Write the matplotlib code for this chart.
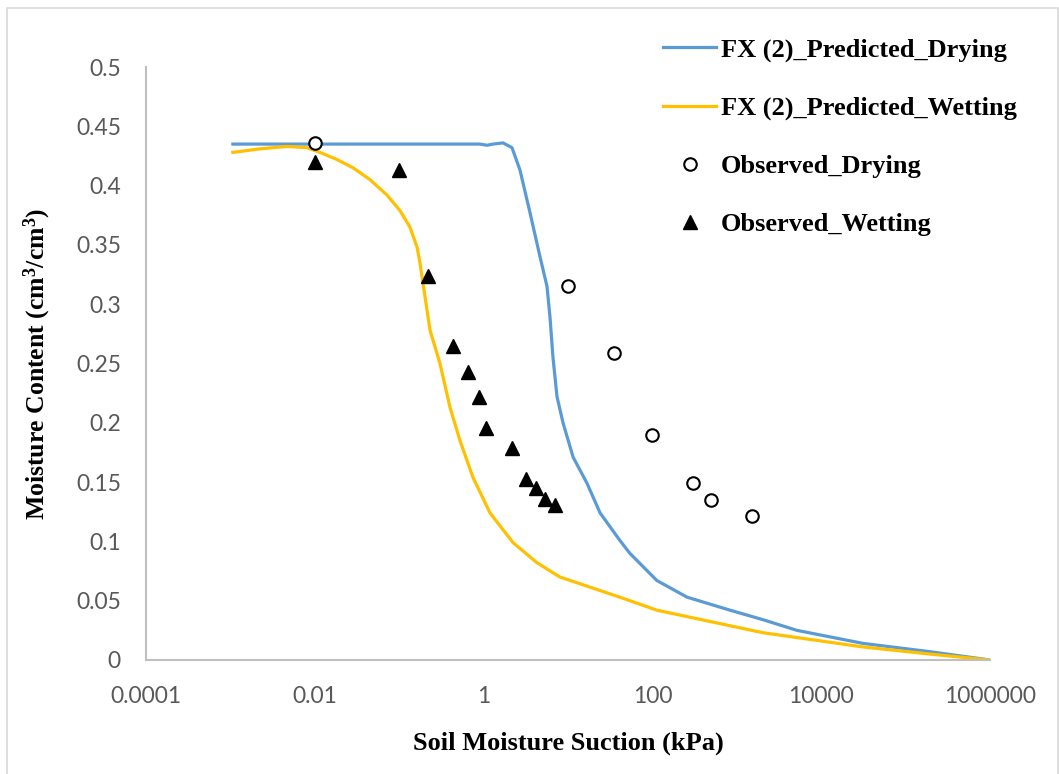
import matplotlib
matplotlib.use('Agg')
import matplotlib.pyplot as plt
from matplotlib.patches import Rectangle

####################
# Data

dry_x = [0.00107, 0.906, 1.1, 1.29, 1.70, 2.17, 2.70, 3.55, 4.66, 5.64, 6.12, 6.64, 7.41,
         8.73, 11.5, 16.8, 24, 41, 54, 113, 257, 832, 2040, 5150, 31300, 195000, 1000000]
dry_y = [0.435, 0.435, 0.434, 0.435, 0.436, 0.432, 0.413, 0.377, 0.340, 0.315, 0.289, 0.255,
         0.222, 0.200, 0.171, 0.149, 0.124, 0.101, 0.090, 0.067, 0.053, 0.042, 0.034, 0.025,
         0.014, 0.007, 0.0]

wet_x = [0.00107, 0.00224, 0.00469, 0.0081, 0.0115, 0.0183, 0.0284, 0.0451, 0.0717, 0.102,
         0.134, 0.163, 0.176, 0.191, 0.232, 0.304, 0.40, 0.525, 0.748, 1.19, 2.23, 4.29, 8.0,
         41, 113, 2040, 31300, 195000, 1000000]
wet_y = [0.428, 0.431, 0.433, 0.432, 0.428, 0.422, 0.415, 0.405, 0.392, 0.379, 0.365, 0.348,
         0.335, 0.318, 0.278, 0.250, 0.213, 0.185, 0.154, 0.124, 0.099, 0.082, 0.070, 0.053,
         0.042, 0.023, 0.011, 0.005, 0.0]

obs_dry_x = [0.01, 10, 35, 100, 300, 500, 1500]
obs_dry_y = [0.436, 0.315, 0.259, 0.190, 0.149, 0.135, 0.121]

obs_wet_x = [0.01, 0.1, 0.22, 0.435, 0.65, 0.88, 1.07, 2.17, 3.2, 4.2, 5.3, 7.0]
obs_wet_y = [0.420, 0.413, 0.324, 0.265, 0.243, 0.222, 0.196, 0.179, 0.153, 0.145, 0.136, 0.131]

x_ticks = [0.0001, 0.01, 1, 100, 10000, 1000000]
x_tick_labels = ['0.0001', '0.01', '1', '100', '10000', '1000000']
y_ticks = [0, 0.05, 0.1, 0.15, 0.2, 0.25, 0.3, 0.35, 0.4, 0.45, 0.5]
y_tick_labels = ['0', '0.05', '0.1', '0.15', '0.2', '0.25', '0.3', '0.35', '0.4', '0.45', '0.5']

####################
# Plot

plt.rcParams['mathtext.fontset'] = 'custom'
plt.rcParams['mathtext.rm'] = 'Liberation Serif:bold'
plt.rcParams['mathtext.it'] = 'Liberation Serif:bold'

fig = plt.figure(figsize=(10.59, 7.74), dpi=100)
ax = fig.add_axes([146/1059, 1-660/774, (990-146)/1059, (660-67)/774])

ax.plot(dry_x, dry_y, color='#5B9BD5', lw=2.3, label='FX (2)_Predicted_Drying')
ax.plot(wet_x, wet_y, color='#FFC000', lw=2.3, label='FX (2)_Predicted_Wetting')
ax.plot(obs_dry_x, obs_dry_y, 'o', ms=9, mfc='white', mec='black', mew=1.5,
        label='Observed_Drying')
ax.plot(obs_wet_x, obs_wet_y, '^', ms=10, color='black', label='Observed_Wetting')

ax.set_xscale('log')
ax.set_xlim(0.0001, 1000000)
ax.set_ylim(0, 0.5)
ax.set_xticks(x_ticks)
ax.set_xticklabels(x_tick_labels)
ax.set_yticks(y_ticks)
ax.set_yticklabels(y_tick_labels)
ax.minorticks_off()
ax.tick_params(length=0, labelsize=16.5, labelcolor='#595959')
ax.tick_params(axis='y', pad=18)
ax.tick_params(axis='x', pad=19)
for lab in ax.get_xticklabels() + ax.get_yticklabels():
    lab.set_family('Lato')

for s in ['top', 'right']:
    ax.spines[s].set_visible(False)
for s in ['left', 'bottom']:
    ax.spines[s].set_color('#BFBFBF')
    ax.spines[s].set_linewidth(1.5)

ax.set_xlabel('Soil Moisture Suction (kPa)', family='Liberation Serif', weight='bold', size=19)
ax.set_ylabel('Moisture Content (cm$^3$/cm$^3$)', family='Liberation Serif', weight='bold',
              size=18.5)
ax.xaxis.set_label_coords(0.5, -0.12)
ax.yaxis.set_label_coords(-0.11, 0.5)

ax.legend(loc='upper left', bbox_to_anchor=(650/1059, 1-25/774),
          bbox_transform=fig.transFigure, frameon=False, borderpad=0,
          handlelength=2.0, handletextpad=0.2, labelspacing=1.3,
          prop=dict(family='Liberation Serif', weight='bold', size=19))

fig.patches.append(Rectangle((7/1059, -0.1), (1058-7)/1059, 1.1-8/774,
                             transform=fig.transFigure, fill=False,
                             edgecolor='#D9D9D9', lw=1.2))

fig.savefig('out.png', dpi=100)
